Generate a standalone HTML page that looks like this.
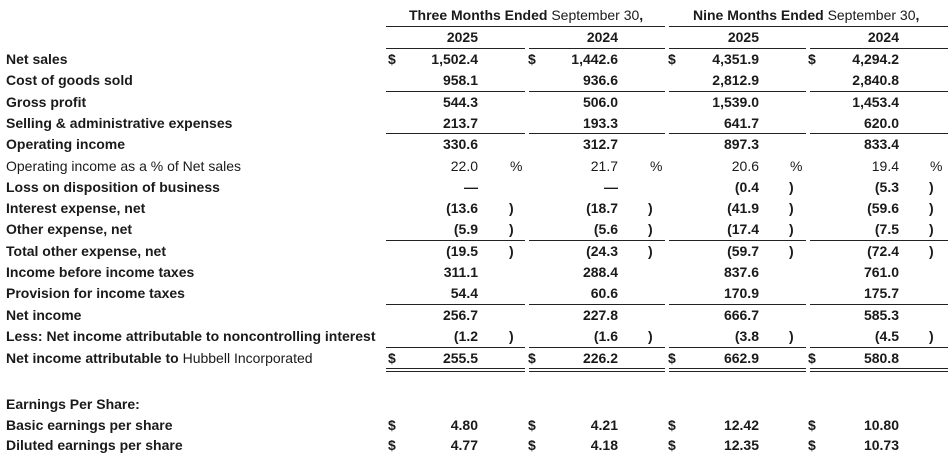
<!DOCTYPE html>
<html><head><meta charset="utf-8"><style>
body{margin:0;background:#fff;}
#c{position:relative;width:952px;height:457px;font-family:"Liberation Sans",Arial,sans-serif;font-size:14px;color:#1a1a1a;font-weight:bold;}
#c div{position:absolute;line-height:16px;white-space:nowrap;}
.l{left:6px}
.r1{left:378px;width:100px;text-align:right}
.r2{left:518px;width:100px;text-align:right}
.r3{left:659px;width:100px;text-align:right}
.r4{left:799px;width:100px;text-align:right}
.d1{left:388px}.d2{left:528px}.d3{left:668px}.d4{left:808px}
.p1{left:509px}.p2{left:648px}.p3{left:789px}.p4{left:929px}
.nb{font-weight:normal}
.h{position:absolute;height:0;border-top:1.5px solid #222;}
</style></head><body><div id="c">
<div style="left:409px;top:7px">Three Months Ended <span class="nb">September 30</span>,</div>
<div style="left:693px;top:7px">Nine Months Ended <span class="nb">September 30</span>,</div>
<span class="h" style="left:386px;width:279px;top:26px"></span>
<span class="h" style="left:669px;width:279px;top:26px"></span>
<div class="r1" style="top:29px">2025</div><div class="r2" style="top:29px">2024</div><div class="r3" style="top:29px">2025</div><div class="r4" style="top:29px">2024</div>
<span class="h" style="left:386px;width:139px;top:48px"></span><span class="h" style="left:529px;width:136px;top:48px"></span><span class="h" style="left:669px;width:137px;top:48px"></span><span class="h" style="left:810px;width:138px;top:48px"></span>

<div class="l" style="top:51px">Net sales</div>
<div class="d1" style="top:51px">$</div><div class="r1" style="top:51px">1,502.4</div><div class="d2" style="top:51px">$</div><div class="r2" style="top:51px">1,442.6</div><div class="d3" style="top:51px">$</div><div class="r3" style="top:51px">4,351.9</div><div class="d4" style="top:51px">$</div><div class="r4" style="top:51px">4,294.2</div>

<div class="l" style="top:72px">Cost of goods sold</div>
<div class="r1" style="top:72px">958.1</div><div class="r2" style="top:72px">936.6</div><div class="r3" style="top:72px">2,812.9</div><div class="r4" style="top:72px">2,840.8</div>
<span class="h" style="left:386px;width:139px;top:91px"></span><span class="h" style="left:529px;width:136px;top:91px"></span><span class="h" style="left:669px;width:137px;top:91px"></span><span class="h" style="left:810px;width:138px;top:91px"></span>

<div class="l" style="top:94px">Gross profit</div>
<div class="r1" style="top:94px">544.3</div><div class="r2" style="top:94px">506.0</div><div class="r3" style="top:94px">1,539.0</div><div class="r4" style="top:94px">1,453.4</div>

<div class="l" style="top:115px">Selling &amp; administrative expenses</div>
<div class="r1" style="top:115px">213.7</div><div class="r2" style="top:115px">193.3</div><div class="r3" style="top:115px">641.7</div><div class="r4" style="top:115px">620.0</div>
<span class="h" style="left:386px;width:139px;top:133px"></span><span class="h" style="left:529px;width:136px;top:133px"></span><span class="h" style="left:669px;width:137px;top:133px"></span><span class="h" style="left:810px;width:138px;top:133px"></span>

<div class="l" style="top:136px">Operating income</div>
<div class="r1" style="top:136px">330.6</div><div class="r2" style="top:136px">312.7</div><div class="r3" style="top:136px">897.3</div><div class="r4" style="top:136px">833.4</div>

<div class="l nb" style="top:158px">Operating income as a % of Net sales</div>
<div class="r1 nb" style="top:158px">22.0</div><div class="r2 nb" style="top:158px">21.7</div><div class="r3 nb" style="top:158px">20.6</div><div class="r4 nb" style="top:158px">19.4</div>
<div class="nb" style="top:158px;left:510px">%</div><div class="nb" style="top:158px;left:650px">%</div><div class="nb" style="top:158px;left:790px">%</div><div class="nb" style="top:158px;left:930px">%</div>

<div class="l" style="top:179px">Loss on disposition of business</div>
<div class="r1" style="top:179px">—</div><div class="r2" style="top:179px">—</div><div class="r3" style="top:179px">(0.4</div><div class="r4" style="top:179px">(5.3</div>
<div class="p3" style="top:179px">)</div><div class="p4" style="top:179px">)</div>

<div class="l" style="top:200px">Interest expense, net</div>
<div class="r1" style="top:200px">(13.6</div><div class="r2" style="top:200px">(18.7</div><div class="r3" style="top:200px">(41.9</div><div class="r4" style="top:200px">(59.6</div>
<div class="p1" style="top:200px">)</div><div class="p2" style="top:200px">)</div><div class="p3" style="top:200px">)</div><div class="p4" style="top:200px">)</div>

<div class="l" style="top:221px">Other expense, net</div>
<div class="r1" style="top:221px">(5.9</div><div class="r2" style="top:221px">(5.6</div><div class="r3" style="top:221px">(17.4</div><div class="r4" style="top:221px">(7.5</div>
<div class="p1" style="top:221px">)</div><div class="p2" style="top:221px">)</div><div class="p3" style="top:221px">)</div><div class="p4" style="top:221px">)</div>
<span class="h" style="left:386px;width:139px;top:240px"></span><span class="h" style="left:529px;width:136px;top:240px"></span><span class="h" style="left:669px;width:137px;top:240px"></span><span class="h" style="left:810px;width:138px;top:240px"></span>

<div class="l" style="top:243px">Total other expense, net</div>
<div class="r1" style="top:243px">(19.5</div><div class="r2" style="top:243px">(24.3</div><div class="r3" style="top:243px">(59.7</div><div class="r4" style="top:243px">(72.4</div>
<div class="p1" style="top:243px">)</div><div class="p2" style="top:243px">)</div><div class="p3" style="top:243px">)</div><div class="p4" style="top:243px">)</div>

<div class="l" style="top:264px">Income before income taxes</div>
<div class="r1" style="top:264px">311.1</div><div class="r2" style="top:264px">288.4</div><div class="r3" style="top:264px">837.6</div><div class="r4" style="top:264px">761.0</div>

<div class="l" style="top:285px">Provision for income taxes</div>
<div class="r1" style="top:285px">54.4</div><div class="r2" style="top:285px">60.6</div><div class="r3" style="top:285px">170.9</div><div class="r4" style="top:285px">175.7</div>
<span class="h" style="left:386px;width:139px;top:304px"></span><span class="h" style="left:529px;width:136px;top:304px"></span><span class="h" style="left:669px;width:137px;top:304px"></span><span class="h" style="left:810px;width:138px;top:304px"></span>

<div class="l" style="top:307px">Net income</div>
<div class="r1" style="top:307px">256.7</div><div class="r2" style="top:307px">227.8</div><div class="r3" style="top:307px">666.7</div><div class="r4" style="top:307px">585.3</div>

<div class="l" style="top:328px">Less: Net income attributable to noncontrolling interest</div>
<div class="r1" style="top:328px">(1.2</div><div class="r2" style="top:328px">(1.6</div><div class="r3" style="top:328px">(3.8</div><div class="r4" style="top:328px">(4.5</div>
<div class="p1" style="top:328px">)</div><div class="p2" style="top:328px">)</div><div class="p3" style="top:328px">)</div><div class="p4" style="top:328px">)</div>
<span class="h" style="left:386px;width:139px;top:347px"></span><span class="h" style="left:529px;width:136px;top:347px"></span><span class="h" style="left:669px;width:137px;top:347px"></span><span class="h" style="left:810px;width:138px;top:347px"></span>

<div class="l" style="top:350px">Net income attributable to <span class="nb">Hubbell Incorporated</span></div>
<div class="d1" style="top:350px">$</div><div class="r1" style="top:350px">255.5</div><div class="d2" style="top:350px">$</div><div class="r2" style="top:350px">226.2</div><div class="d3" style="top:350px">$</div><div class="r3" style="top:350px">662.9</div><div class="d4" style="top:350px">$</div><div class="r4" style="top:350px">580.8</div>
<span class="h" style="left:386px;width:139px;top:368px"></span><span class="h" style="left:529px;width:136px;top:368px"></span><span class="h" style="left:669px;width:137px;top:368px"></span><span class="h" style="left:810px;width:138px;top:368px"></span>
<span class="h" style="left:386px;width:139px;top:371px"></span><span class="h" style="left:529px;width:136px;top:371px"></span><span class="h" style="left:669px;width:137px;top:371px"></span><span class="h" style="left:810px;width:138px;top:371px"></span>

<div class="l" style="top:396px">Earnings Per Share:</div>
<div class="l" style="top:417px">Basic earnings per share</div>
<div class="d1" style="top:417px">$</div><div class="r1" style="top:417px">4.80</div><div class="d2" style="top:417px">$</div><div class="r2" style="top:417px">4.21</div><div class="d3" style="top:417px">$</div><div class="r3" style="top:417px">12.42</div><div class="d4" style="top:417px">$</div><div class="r4" style="top:417px">10.80</div>
<div class="l" style="top:437px">Diluted earnings per share</div>
<div class="d1" style="top:437px">$</div><div class="r1" style="top:437px">4.77</div><div class="d2" style="top:437px">$</div><div class="r2" style="top:437px">4.18</div><div class="d3" style="top:437px">$</div><div class="r3" style="top:437px">12.35</div><div class="d4" style="top:437px">$</div><div class="r4" style="top:437px">10.73</div>
</div></body></html>
